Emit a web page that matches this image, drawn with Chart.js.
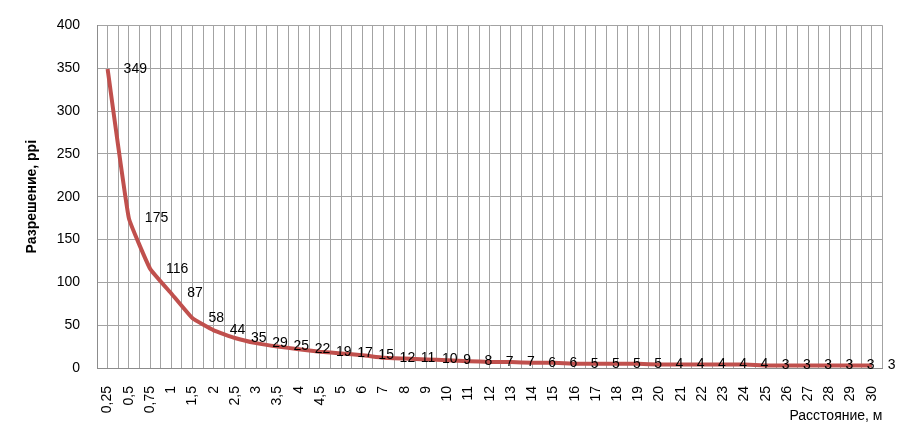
<!DOCTYPE html>
<html>
<head>
<meta charset="utf-8">
<script src="https://cdn.jsdelivr.net/npm/chart.js@4/dist/chart.umd.min.js"></script>
<style>
  html, body { margin: 0; padding: 0; background: #fff; }
  #wrap { width: 907px; height: 429px; position: relative; }
</style>
</head>
<body>
<div id="wrap"><canvas id="chart"></canvas></div>
<script>
// --- data ---
const distances = ['0,25', '0,5', '0,75', '1', '1,5', '2', '2,5', '3', '3,5', '4', '4,5', '5',
    '6', '7', '8', '9', '10', '11', '12', '13', '14', '15', '16', '17', '18', '19', '20',
    '21', '22', '23', '24', '25', '26', '27', '28', '29', '30'];
const ppiValues = [349, 175, 116, 87, 58, 44, 35, 29, 25, 22, 19, 17,
    15, 12, 11, 10, 9, 8, 7, 7, 6, 6, 5, 5, 5, 5, 4,
    4, 4, 4, 4, 3, 3, 3, 3, 3, 3];
const yTitle = 'Разрешение, ppi';
const xTitle = 'Расстояние, м';

const FONT = "'Liberation Sans', Arial, sans-serif";
const GRID = '#a3a3a3';

// value labels to the right of each point (like Excel's "right" position)
const valueLabels = {
    id: 'valueLabels',
    afterDatasetsDraw(chart) {
        const ctx = chart.ctx;
        const meta = chart.getDatasetMeta(0);
        ctx.save();
        ctx.font = '14px ' + FONT;
        ctx.fillStyle = '#000';
        ctx.textAlign = 'left';
        ctx.textBaseline = 'middle';
        meta.data.forEach((pt, i) => {
            ctx.fillText(String(ppiValues[i]), pt.x + 16, pt.y);
        });
        ctx.restore();
    }
};

new Chart(document.getElementById('chart'), {
    type: 'line',
    data: {
        labels: distances,
        datasets: [{
            data: ppiValues,
            borderColor: '#c0504d',
            borderWidth: 4,
            pointRadius: 0,
            tension: 0.1,
            fill: false
        }]
    },
    options: {
        responsive: true,
        maintainAspectRatio: false,
        animation: false,
        layout: { padding: { left: 20, top: 17, right: 19, bottom: 0 } },
        plugins: {
            legend: { display: false },
            tooltip: { enabled: false }
        },
        scales: {
            x: {
                offset: true,
                grid: { offset: true, color: GRID, drawTicks: false },
                border: { color: '#8c8c8c' },
                ticks: {
                    color: '#000', font: { size: 14, family: FONT },
                    minRotation: 90, maxRotation: 90, padding: 18, autoSkip: false
                },
                title: {
                    display: true, text: xTitle, align: 'end', color: '#000',
                    font: { size: 14, family: FONT }, padding: { top: 0, bottom: 4 }
                },
                afterFit(scale) { scale.height = 61; }
            },
            x2: {
                type: 'category',
                labels: distances,
                position: 'top',
                offset: true,
                grid: { offset: false, color: GRID, drawTicks: false },
                border: { display: false },
                ticks: { display: false },
                afterFit(scale) { scale.height = 0; }
            },
            y: {
                min: 0, max: 400,
                grid: { color: GRID, drawTicks: false },
                border: { color: '#8c8c8c' },
                ticks: {
                    stepSize: 50, color: '#000', padding: 17,
                    font: { size: 14, family: FONT }
                },
                title: {
                    display: true, text: yTitle, color: '#000',
                    font: { size: 14, family: FONT, weight: 'bold' }
                },
                afterFit(scale) { scale.width = 77; }
            }
        }
    },
    plugins: [valueLabels]
});
</script>
</body>
</html>
